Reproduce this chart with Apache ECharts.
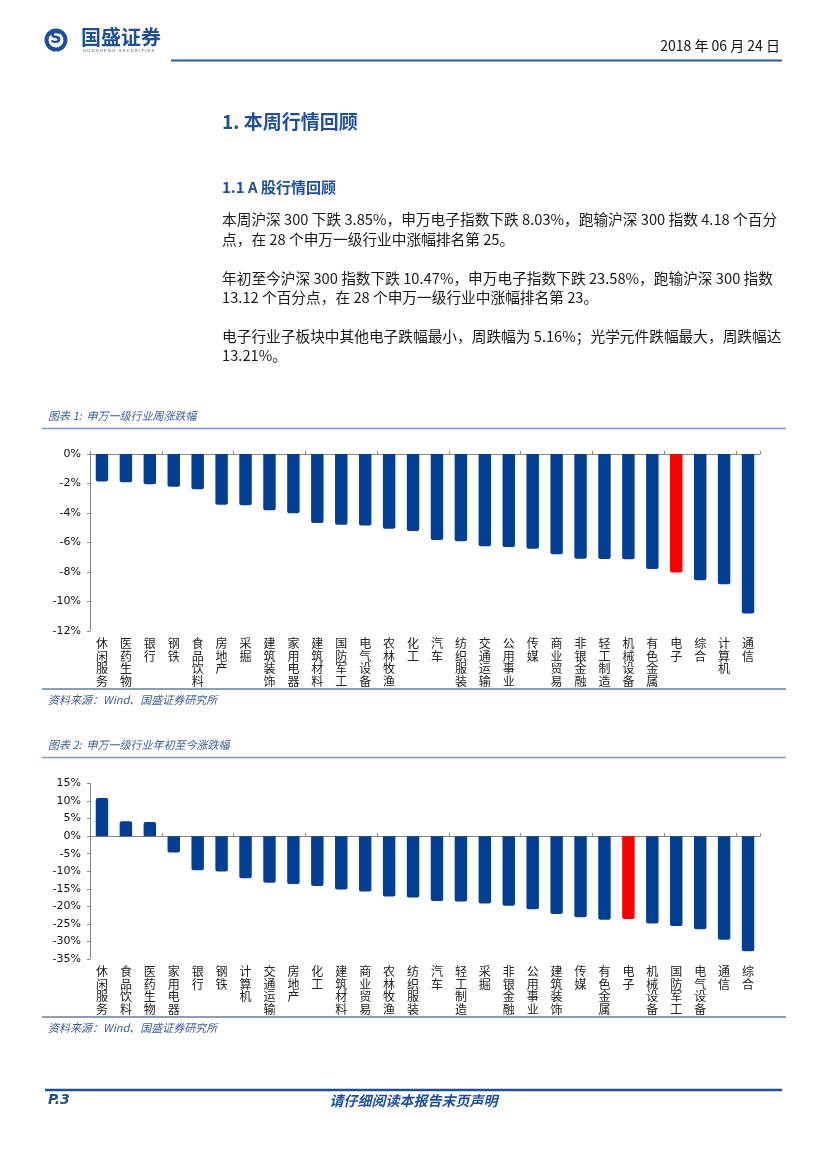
<!DOCTYPE html>
<html><head><meta charset="utf-8">
<script src="https://cdn.jsdelivr.net/npm/echarts@6/dist/echarts.min.js"></script>
<style>html,body{margin:0;padding:0;background:#fff}#c{width:827px;height:1169px}</style>
</head><body><div id="c"></div>
<script>
// Chart 1: weekly change (%)
const cats1 = ['休闲服务','医药生物','银行','钢铁','食品饮料','房地产','采掘','建筑装饰','家用电器','建筑材料','国防军工','电气设备','农林牧渔','化工','汽车','纺织服装','交通运输','公用事业','传媒','商业贸易','非银金融','轻工制造','机械设备','有色金属','电子','综合','计算机','通信'];
const vals1 = [-1.86,-1.91,-2.05,-2.22,-2.39,-3.44,-3.47,-3.82,-4.01,-4.68,-4.79,-4.84,-5.06,-5.22,-5.83,-5.92,-6.26,-6.31,-6.42,-6.80,-7.10,-7.12,-7.14,-7.80,-8.03,-8.56,-8.83,-10.82];
// Chart 2: year-to-date change (%)
const cats2 = ['休闲服务','食品饮料','医药生物','家用电器','银行','钢铁','计算机','交通运输','房地产','化工','建筑材料','商业贸易','农林牧渔','纺织服装','汽车','轻工制造','采掘','非银金融','公用事业','建筑装饰','传媒','有色金属','电子','机械设备','国防军工','电气设备','通信','综合'];
const vals2 = [10.9,4.27,4.0,-4.64,-9.7,-10.1,-11.96,-13.3,-13.6,-14.2,-15.2,-15.8,-17.2,-17.5,-18.5,-18.6,-19.2,-19.8,-20.8,-22.2,-23.1,-23.8,-23.58,-24.9,-25.6,-26.5,-29.5,-32.8];
const highlight = '电子';
const yTicks1 = {min:-12, max:0, interval:2};
const yTicks2 = {min:-35, max:15, interval:5};

const BLUE = '#023f93', RED = '#ff0000';
const TFONT = '"Noto Sans CJK SC", sans-serif';
const chart = echarts.init(document.getElementById('c'), null, {renderer:'canvas'});

function barData(cats, vals){
  return vals.map((v,i)=>({value:v, itemStyle:{color: cats[i]===highlight?RED:BLUE, borderRadius: v<0?[0,0,2,2]:[2,2,0,0]}}));
}
const vLabel = {fontFamily:TFONT, fontSize:12, color:'#222', lineHeight:12.7, interval:0, margin:6, verticalAlign:'top',
  formatter: s => s.split('').join('\n')};
const yLabel = {fontFamily:'"DejaVu Sans", Verdana, sans-serif', fontSize:11, color:'#111', margin:9,
  formatter: v => v + '%'};
const yAxisCommon = {type:'value', axisLine:{show:true, lineStyle:{color:'#888', width:1}}, axisTick:{show:true, length:3, lineStyle:{color:'#888'}}, splitLine:{show:false}, axisLabel:yLabel};

function txt(x,y,text,style){ return {type:'text', left:x, top:y, style:Object.assign({text:text, fill:'#111', font:'13px '+TFONT}, style||{})}; }
function line(x1,y1,x2,y2,color,w){ return {type:'line', shape:{x1:x1,y1:y1,x2:x2,y2:y2}, style:{stroke:color, lineWidth:w}}; }

const paraStyle = {font:'14.7px '+TFONT, fill:'#1a1a1a'};
const titleStyle = {font:'italic 11px '+TFONT, fill:'#3b5b9b'};
const srcStyle = {font:'italic 11px '+TFONT, fill:'#3b5b9b'};

const graphics = [
  // logo
  {type:'circle', shape:{cx:56, cy:40, r:11.5}, style:{fill:'#1d4f9c'}},
  {type:'circle', shape:{cx:56, cy:40, r:7.5}, style:{fill:'#fff'}},
  txt(50, 30.5, 'S', {font:'bold 16px "DejaVu Sans"', fill:'#1d4f9c'}),
  txt(81, 27, '国盛证券', {font:'bold 20px '+TFONT, fill:'#1d4f9c'}),
  txt(83, 49, 'G U O S H E N G   S E C U R I T I E S', {font:'4px "DejaVu Sans"', fill:'#555'}),
  line(171, 60.5, 782, 60.5, '#2d5ba8', 2),
  {type:'text', right:47, top:39, style:{text:'2018 年 06 月 24 日', font:'14px '+TFONT, fill:'#111'}},
  // headings
  txt(222, 112, '1. 本周行情回顾', {font:'bold 19px '+TFONT, fill:'#1f4f9e'}),
  txt(222, 180, '1.1 A 股行情回顾', {font:'bold 15px '+TFONT, fill:'#1f4f9e'}),
  txt(222, 212, '本周沪深 300 下跌 3.85%，申万电子指数下跌 8.03%，跑输沪深 300 指数 4.18 个百分', paraStyle),
  txt(222, 232, '点，在 28 个申万一级行业中涨幅排名第 25。', paraStyle),
  txt(222, 271, '年初至今沪深 300 指数下跌 10.47%，申万电子指数下跌 23.58%，跑输沪深 300 指数', paraStyle),
  txt(222, 290.5, '13.12 个百分点，在 28 个申万一级行业中涨幅排名第 23。', paraStyle),
  txt(222, 329.5, '电子行业子板块中其他电子跌幅最小，周跌幅为 5.16%；光学元件跌幅最大，周跌幅达', paraStyle),
  txt(222, 348, '13.21%。', paraStyle),
  // chart 1 frame
  txt(48, 410.5, '图表 1:  申万一级行业周涨跌幅', titleStyle),
  line(42, 428.5, 786, 428.5, '#7a9cc4', 1.5),
  line(42, 689, 786, 689, '#5f7f9f', 1.5),
  txt(48, 694, '资料来源：Wind、国盛证券研究所', srcStyle),
  // chart 2 frame
  txt(48, 739, '图表 2:  申万一级行业年初至今涨跌幅', titleStyle),
  line(42, 757.5, 786, 757.5, '#7a9cc4', 1.5),
  line(42, 1017, 786, 1017, '#5f7f9f', 1.5),
  txt(48, 1022, '资料来源：Wind、国盛证券研究所', srcStyle),
  // footer
  line(45, 1090, 782, 1090, '#1d4f9c', 2.5),
  txt(48, 1093.5, 'P.3', {font:'italic bold 14px "DejaVu Sans"', fill:'#1d4f9c'}),
  {type:'text', left:'center', top:1093.5, style:{text:'请仔细阅读本报告末页声明', font:'italic bold 14px '+TFONT, fill:'#1d4f9c'}}
];

chart.setOption({
  animation:false,
  grid:[
    {left:90, width:670, top:454, height:177},
    {left:90, width:670, top:783.5, height:175.5}
  ],
  xAxis:[
    {gridIndex:0, type:'category', data:cats1, position:'bottom', axisLine:{show:false, onZero:false}, axisTick:{show:false}, axisLabel:vLabel},
    {gridIndex:0, type:'category', data:cats1, position:'top', axisLine:{show:true, onZero:true, lineStyle:{color:'#888'}}, axisTick:{show:true, length:3, lineStyle:{color:'#888'}}, axisLabel:{show:false}},
    {gridIndex:1, type:'category', data:cats2, position:'bottom', axisLine:{show:false, onZero:false}, axisTick:{show:false}, axisLabel:vLabel},
    {gridIndex:1, type:'category', data:cats2, position:'top', axisLine:{show:true, onZero:true, lineStyle:{color:'#888'}}, axisTick:{show:true, length:3, lineStyle:{color:'#888'}}, axisLabel:{show:false}}
  ],
  yAxis:[
    Object.assign({gridIndex:0}, yAxisCommon, yTicks1),
    Object.assign({gridIndex:1}, yAxisCommon, yTicks2)
  ],
  series:[
    {type:'bar', xAxisIndex:0, yAxisIndex:0, data:barData(cats1, vals1), barWidth:'52%'},
    {type:'bar', xAxisIndex:2, yAxisIndex:1, data:barData(cats2, vals2), barWidth:'52%'}
  ],
  graphic:graphics
});
</script></body></html>
